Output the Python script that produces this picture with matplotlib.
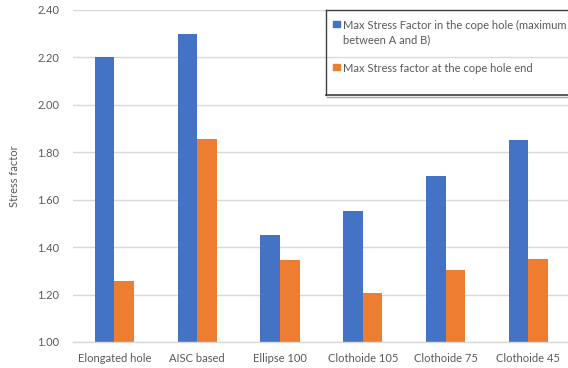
import matplotlib
matplotlib.use("Agg")
import matplotlib.pyplot as plt
from matplotlib.patches import Rectangle
from matplotlib.lines import Line2D
import numpy as np

categories = ["Elongated hole", "AISC based", "Ellipse 100",
              "Clothoide 105", "Clothoide 75", "Clothoide 45"]
hole_max = [2.20, 2.30, 1.45, 1.55, 1.70, 1.85]
hole_end = [1.257, 1.857, 1.347, 1.208, 1.302, 1.348]
series_labels = [["Max Stress Factor in the cope hole (maximum", "between A and B)"],
                 ["Max Stress factor at the cope hole end"]]
yticks = [1.00, 1.20, 1.40, 1.60, 1.80, 2.00, 2.20, 2.40]

BLUE = "#4472C4"
ORANGE = "#ED7D31"
TEXT = "#595959"
GRID = "#D9D9D9"
FS = 8.0
FS_LEG = 8.05

W, H = 568, 368
fig = plt.figure(figsize=(W / 100, H / 100), dpi=100)
plt.rcParams["font.family"] = ["Lato", "DejaVu Sans"]


def fx(px):
    return px / W


def fy(py):
    return 1 - py / H


# axes: left 73px, right 569.8px, top 9.8px, bottom 342px
ax = fig.add_axes([fx(73), fy(342), fx(569.8 - 73), (342 - 9.8) / H])
x = np.arange(len(categories))
bw = 0.237
ax.bar(x - bw / 2, np.array(hole_max) - 1.0, bw, bottom=1.0, color=BLUE, zorder=3)
ax.bar(x + bw / 2, np.array(hole_end) - 1.0, bw, bottom=1.0, color=ORANGE, zorder=3)

ax.set_xlim(-0.5, len(categories) - 0.5)
ax.set_ylim(1.0, 2.4)
ax.set_yticks(yticks)
ax.set_yticklabels([f"{v:.2f}" for v in yticks])
ax.set_xticks(x)
ax.set_xticklabels(categories)
ax.tick_params(axis="both", length=0, colors=TEXT, labelsize=FS)
ax.tick_params(axis="y", pad=10)
ax.tick_params(axis="x", pad=8)
ax.grid(axis="y", color=GRID, linewidth=1, zorder=0)
for s in ["top", "right", "left"]:
    ax.spines[s].set_visible(False)
ax.spines["bottom"].set_color(GRID)
ax.spines["bottom"].set_linewidth(1)
ax.spines["bottom"].set_zorder(4)
ax.set_ylabel("Stress factor", color=TEXT, fontsize=FS)
ax.yaxis.set_label_coords((20 - 73) / (569.8 - 73), 0.5)

# legend panel
lx0, ly0, ly1 = 326, 9.5, 95
fig.add_artist(Line2D([fx(lx0), fx(lx0)], [fy(ly0), fy(ly1)], color="#404040", lw=1))
fig.add_artist(Line2D([fx(lx0), 1], [fy(ly0), fy(ly0)], color="#404040", lw=1))
fig.add_artist(Line2D([fx(lx0), 1], [fy(ly1), fy(ly1)], color="#404040", lw=1.2))
fig.add_artist(Line2D([fx(lx0 + 1), 1], [fy(ly1 + 1.5), fy(ly1 + 1.5)], color="#A6A6A6", lw=1))

for color, lines, cy in [(BLUE, series_labels[0], 24), (ORANGE, series_labels[1], 67)]:
    fig.add_artist(Rectangle((fx(333), fy(cy + 3.3)), fx(6.6), 6.6 / H, color=color))
    for i, line in enumerate(lines):
        fig.text(fx(343), fy(cy + 15 * i), line, color=TEXT, fontsize=FS_LEG,
                 va="center_baseline", ha="left")

fig.savefig("out.png", dpi=100)
